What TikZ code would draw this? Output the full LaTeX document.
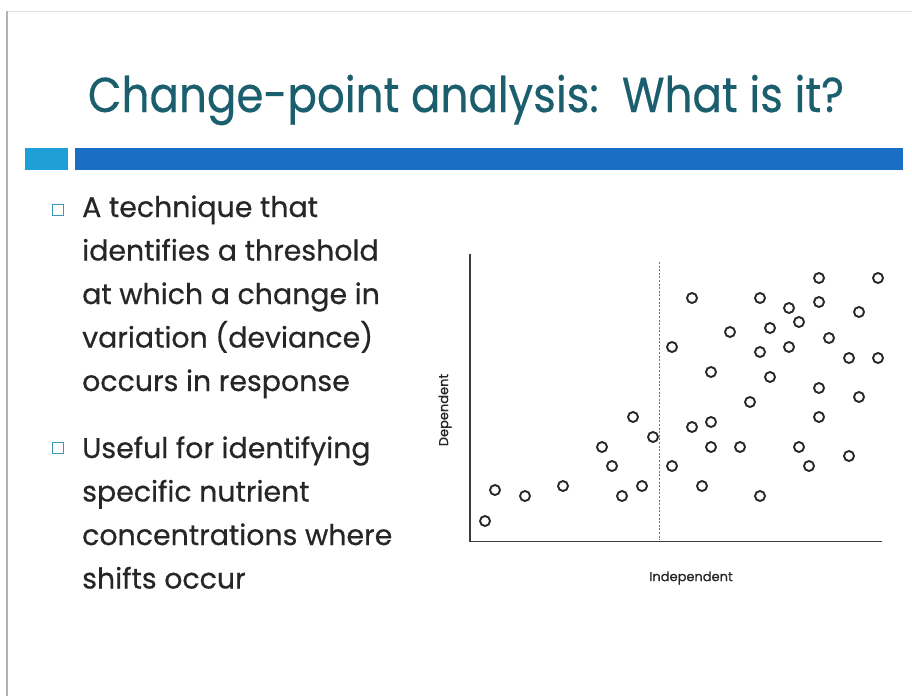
\documentclass[tikz,border=0pt]{standalone}
\usepackage{fontspec}
\setmainfont[FakeBold=0.5]{Poppins}
\newfontfamily\titlefont[FakeStretch=0.89, FakeBold=0.4]{Poppins}
\newfontfamily\labelfont[FakeBold=0.8]{Poppins}
\usepackage{tikz}
\usetikzlibrary{positioning}

\definecolor{titleteal}{RGB}{27,94,110}
\definecolor{barlight}{RGB}{30,160,215}
\definecolor{bardark}{RGB}{26,110,196}
\definecolor{bulletblue}{RGB}{60,150,185}
\definecolor{inkgray}{RGB}{40,40,40}

\tikzset{
  body/.style={anchor=base west, inner sep=0pt, font=\fontsize{28.4}{31}\selectfont, text=black!85},
  dot/.style={draw=inkgray, line width=1.9pt},
  axis/.style={draw=inkgray!90, line width=1.5pt},
  bulletbox/.style={draw=bulletblue, line width=1.3pt, minimum size=11.5pt, inner sep=0pt}
}

\begin{document}
\begin{tikzpicture}[x=1pt, y=-1pt]
	\useasboundingbox (0,0) rectangle (912,696);
	\fill[white] (0,0) rectangle (912,696);

	% slide edge
	\draw[black!12, line width=1pt] (7,11) -- (912,11);
	\draw[black!30, line width=1.5pt] (7,11) -- (7,696);

	% title
	\node[text=titleteal, font=\titlefont\fontsize{49}{55}\selectfont, anchor=base] (title) at (466,112) {Change-point analysis:\ \ What is it?};

	% bar
	\fill[barlight] (25,148) rectangle (68,170);
	\fill[bardark] (75,148) rectangle (903,170);

	% bullets
	\node[bulletbox] (b1) at (58,210) {};
	\node[bulletbox] (b2) at (58,448) {};
	\foreach \txt [count=\i] in {A technique that, identifies a threshold, at which a change in, variation (deviance), occurs in response}
	  \node[body] (la\i) at (82, 173.5+43.5*\i) {\txt};
	\foreach \txt [count=\i] in {Useful for identifying, specific nutrient, concentrations where, shifts occur}
	  \node[body] (lb\i) at (82, 414.5+43.5*\i) {\txt};

	% plot
	\coordinate (origin) at (470,541.5);
	\coordinate (ytop) at (470,254);
	\coordinate (xend) at (882,541.5);
	\draw[axis] (ytop) -- (origin) -- (xend);
	\coordinate (cp top) at (659.5,262);
	\coordinate (cp bot) at (659.5,540);
	\draw[black!55, line width=1pt, dash pattern=on 2pt off 1.6pt] (cp top) -- (cp bot);

	\foreach \px/\py in {819/278, 878/278, 692/298, 760/298, 819/302, 789/308, 859/312,
	  799/322, 770/328, 730/332, 829/338, 672/347, 789/347, 760/352, 849/358, 878/358,
	  711/372, 770/377, 819/388, 859/397, 750/402, 633/417, 819/417, 711/422, 692/427,
	  653/437, 602/447, 711/447, 740/447, 799/447, 849/456, 612/466, 672/466, 809/466,
	  495/490, 525/496, 563/486, 622/496, 642/486, 702/486, 760/496, 485/521}
	  \draw[dot] (\px,\py) circle [radius=5pt];

	\node[font=\labelfont\fontsize{13}{15}\selectfont, text=black!85] (xlabel) at (691,578) {Independent};
	\node[font=\labelfont\fontsize{13}{15}\selectfont, text=black!85, rotate=90] (ylabel) at (445,410) {Dependent};
\end{tikzpicture}
\end{document}
